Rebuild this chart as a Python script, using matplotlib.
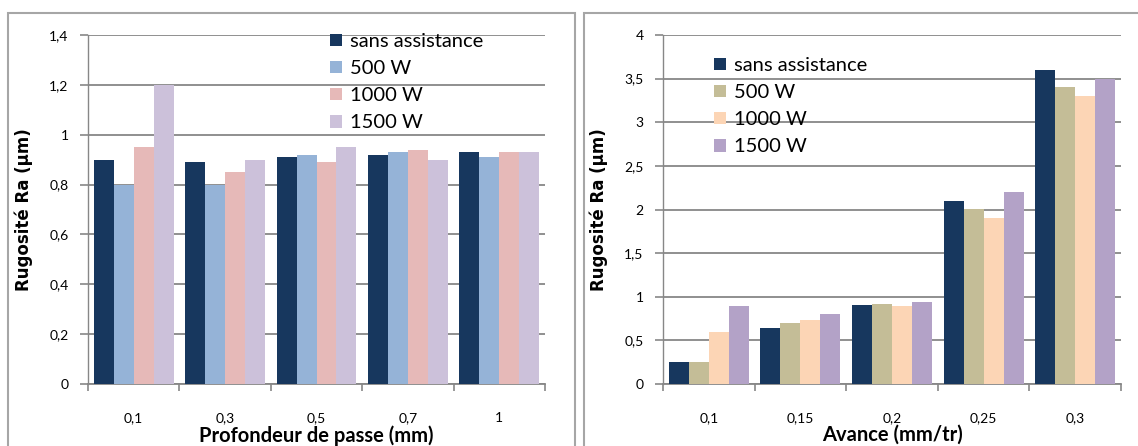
import matplotlib
matplotlib.use("Agg")
import matplotlib.pyplot as plt
import numpy as np
from matplotlib.patches import Rectangle

plt.rcParams['font.family'] = ['Lato', 'DejaVu Sans']

series_names = ["sans assistance", "500 W", "1000 W", "1500 W"]

depth_labels = ["0,1", "0,3", "0,5", "0,7", "1"]
depth_sans = [0.90, 0.89, 0.91, 0.92, 0.93]
depth_500 = [0.80, 0.80, 0.92, 0.93, 0.91]
depth_1000 = [0.95, 0.85, 0.89, 0.94, 0.93]
depth_1500 = [1.20, 0.90, 0.95, 0.90, 0.93]

feed_labels = ["0,1", "0,15", "0,2", "0,25", "0,3"]
feed_sans = [0.25, 0.64, 0.90, 2.10, 3.60]
feed_500 = [0.25, 0.70, 0.92, 2.01, 3.40]
feed_1000 = [0.60, 0.73, 0.89, 1.90, 3.30]
feed_1500 = [0.89, 0.80, 0.94, 2.20, 3.50]

left_colors = ["#17375E", "#95B3D7", "#E6B9B8", "#CCC1DA"]
right_colors = ["#17375E", "#C4BD97", "#FCD5B5", "#B3A2C7"]

W, H = 1138, 446
fig = plt.figure(figsize=(W / 100, H / 100), dpi=100)

def fx(px):
    return px / W

def fy(py):
    return 1 - py / H

# panel borders
for x0, x1 in [(8, 575), (584, 1145)]:
    fig.patches.append(Rectangle((fx(x0), fy(460)), fx(x1 - x0), (460 - 13) / H,
                                 transform=fig.transFigure, fill=False,
                                 edgecolor="#A6A6A6", lw=1.5))

grid_c = "#878787"

def make_panel(rect, labels, data, colors, ymax, ystep, yfmt, xlabel, leg_xy):
    ax = fig.add_axes(rect)
    n = len(labels)
    x = np.arange(n)
    bw = 0.218
    handles = []
    for i, (vals, c) in enumerate(zip(data, colors)):
        b = ax.bar(x + (i - 1.5) * bw, vals, width=bw, color=c, label=series_names[i],
                   zorder=3, linewidth=0)
        handles.append(b)
    ax.set_xlim(-0.5, n - 0.5)
    ax.set_ylim(0, ymax)
    yt = np.arange(0, ymax + ystep / 2, ystep)
    ax.set_yticks(yt)
    ax.set_yticklabels([yfmt(v) for v in yt], fontsize=10)
    ax.yaxis.grid(True, color=grid_c, lw=1.3, zorder=0)
    ax.set_axisbelow(True)
    for s in ["top", "right"]:
        ax.spines[s].set_visible(False)
    ax.spines["left"].set_color(grid_c)
    ax.spines["bottom"].set_color(grid_c)
    ax.spines["left"].set_linewidth(1.0)
    ax.spines["bottom"].set_linewidth(1.3)
    ax.tick_params(axis="y", length=6, width=1.2, color=grid_c, pad=8)
    ax.set_xticks(x)
    ax.set_xticklabels(labels, fontsize=10)
    ax.tick_params(axis="x", which="major", length=0, pad=20)
    ax.set_xticks(np.arange(-0.5, n), minor=True)
    ax.tick_params(axis="x", which="minor", length=5, width=1.2, color=grid_c)
    ax.set_xlabel(xlabel, fontsize=14.5, fontweight="bold", labelpad=1)
    ax.set_ylabel("Rugosité Ra (µm)", fontsize=12, fontweight="bold",
                  fontfamily="DejaVu Sans", labelpad=12)
    ax.legend(handles=handles, loc="upper left", bbox_to_anchor=leg_xy,
              bbox_transform=fig.transFigure, frameon=False, fontsize=14.5,
              handlelength=0.6, handleheight=0.6, handletextpad=0.4,
              labelspacing=0.5, borderpad=0, borderaxespad=0)
    return ax

def fmt(v):
    s = ("%.1f" % v).rstrip("0").rstrip(".")
    return s.replace(".", ",")

make_panel([fx(88), fy(384), fx(545 - 88), (384 - 35) / H], depth_labels,
           [depth_sans, depth_500, depth_1000, depth_1500], left_colors,
           1.4, 0.2, fmt, "Profondeur de passe (mm)", (fx(330), fy(33)))

make_panel([fx(663), fy(384), fx(1121 - 663), (384 - 35) / H], feed_labels,
           [feed_sans, feed_500, feed_1000, feed_1500], right_colors,
           4.0, 0.5, fmt, "Avance (mm/tr)", (fx(714), fy(57)))

fig.savefig("out.png", dpi=100)
